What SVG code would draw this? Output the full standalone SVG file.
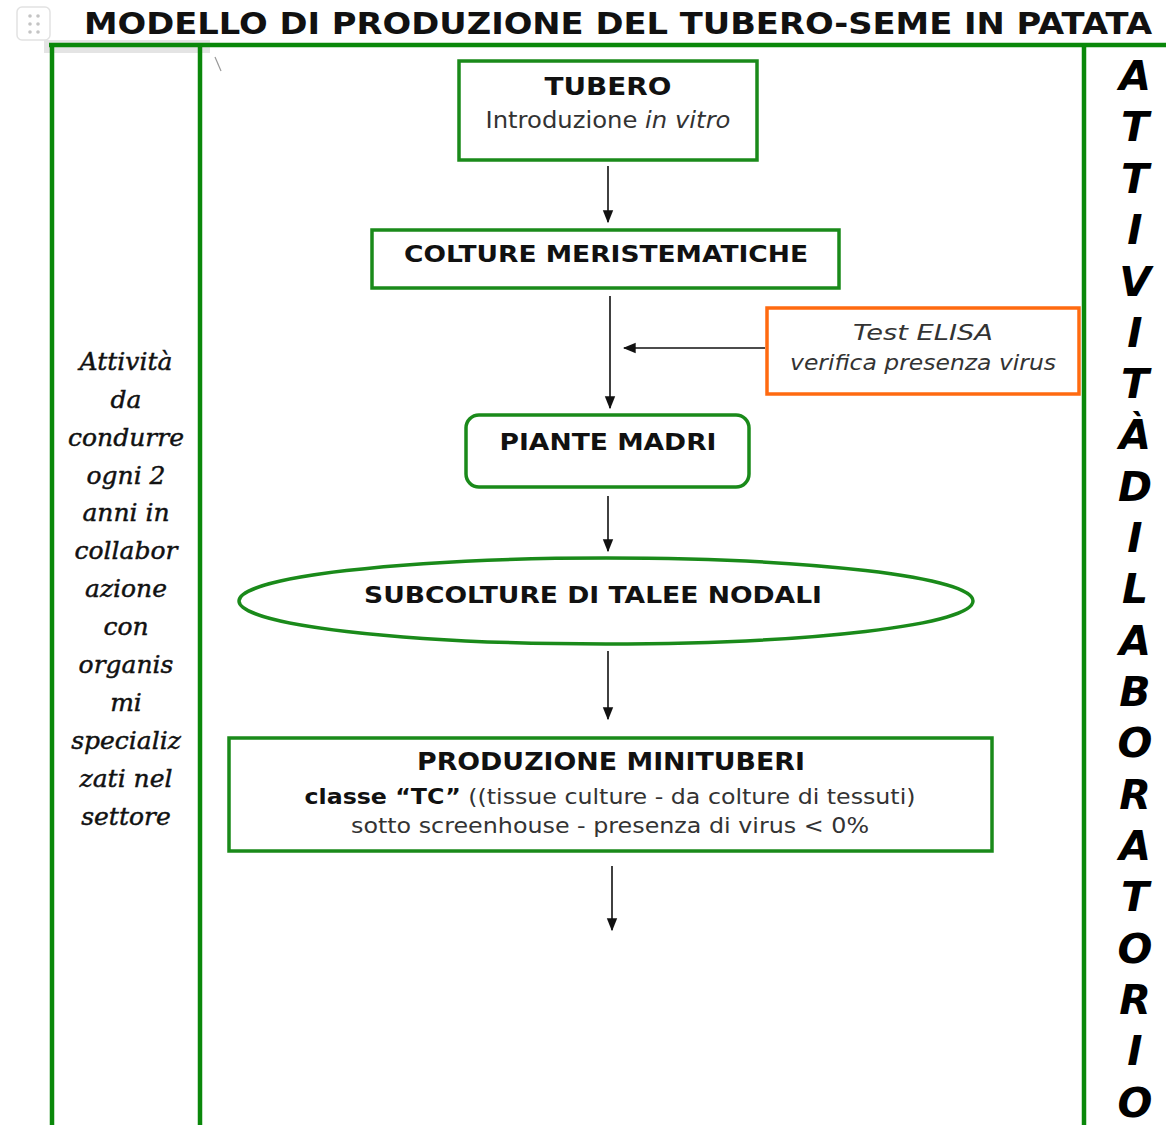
<svg xmlns="http://www.w3.org/2000/svg" width="1166" height="1125" viewBox="0 0 1166 1125">
<defs>
<style>
.frame{stroke:#0a880a;stroke-width:4.5;fill:none}
.box{fill:#fff;stroke:#1a8a1a;stroke-width:3.5}
.elisa{fill:#fff;stroke:#ff6a10;stroke-width:3.5}
.conn{stroke:#111;stroke-width:1.6;fill:none}
.b{font-family:"DejaVu Sans",Verdana,sans-serif;font-weight:bold;fill:#111;text-anchor:middle}
.r{font-family:"DejaVu Sans",Verdana,sans-serif;fill:#333;text-anchor:middle}
.side{font-family:"DejaVu Serif","Liberation Serif",serif;font-style:italic;font-size:25px;fill:#111;stroke:#111;stroke-width:0.45;text-anchor:middle}
.lab{font-family:"DejaVu Sans",Verdana,sans-serif;font-weight:bold;font-style:italic;font-size:41px;fill:#000;text-anchor:middle}
</style>
<marker id="ah2" viewBox="0 0 10 10" refX="9" refY="5" markerWidth="13" markerHeight="13" markerUnits="userSpaceOnUse" orient="auto"><path d="M0,1 L10,5 L0,9 z" fill="#111"/></marker>
</defs>
<rect width="1166" height="1125" fill="#fff"/>
<g id="handle">
<rect x="17" y="7" width="33" height="33" rx="5" fill="#fff" stroke="#e2e2e2" stroke-width="1.5"/>
<g fill="#c4c4c4"><circle cx="30" cy="16" r="1.8"/><circle cx="38" cy="16" r="1.8"/><circle cx="30" cy="24" r="1.8"/><circle cx="38" cy="24" r="1.8"/><circle cx="30" cy="32" r="1.8"/><circle cx="38" cy="32" r="1.8"/></g>
</g>
<rect x="44" y="40" width="166" height="13" fill="#e4e4e4"/>
<line x1="215" y1="57" x2="221" y2="71" stroke="#999" stroke-width="1.2"/>
<g id="title"><text x="618" y="34" class="b" font-size="30" textLength="1068" lengthAdjust="spacingAndGlyphs">MODELLO DI PRODUZIONE DEL TUBERO-SEME IN PATATA</text></g>
<g id="frame">
<line x1="49" y1="45" x2="1166" y2="45" class="frame"/>
<line x1="52" y1="43" x2="52" y2="1125" class="frame"/>
<line x1="200" y1="43" x2="200" y2="1125" class="frame"/>
<line x1="1084" y1="43" x2="1084" y2="1125" class="frame"/>
</g>
<g id="side-left">
<text class="side" x="126" y="370">Attività</text>
<text class="side" x="126" y="408">da</text>
<text class="side" x="126" y="446">condurre</text>
<text class="side" x="126" y="484">ogni 2</text>
<text class="side" x="126" y="521">anni in</text>
<text class="side" x="126" y="559">collabor</text>
<text class="side" x="126" y="597">azione</text>
<text class="side" x="126" y="635">con</text>
<text class="side" x="126" y="673">organis</text>
<text class="side" x="126" y="711">mi</text>
<text class="side" x="126" y="749">specializ</text>
<text class="side" x="126" y="787">zati nel</text>
<text class="side" x="126" y="825">settore</text>
</g>
<g id="side-right">
<text class="lab" x="1135" y="90">A</text>
<text class="lab" x="1135" y="141">T</text>
<text class="lab" x="1135" y="193">T</text>
<text class="lab" x="1135" y="244">I</text>
<text class="lab" x="1135" y="296">V</text>
<text class="lab" x="1135" y="347">I</text>
<text class="lab" x="1135" y="398">T</text>
<text class="lab" x="1135" y="449">À</text>
<text class="lab" x="1135" y="501">D</text>
<text class="lab" x="1135" y="552">I</text>
<text class="lab" x="1135" y="603">L</text>
<text class="lab" x="1135" y="655">A</text>
<text class="lab" x="1135" y="706">B</text>
<text class="lab" x="1135" y="757">O</text>
<text class="lab" x="1135" y="809">R</text>
<text class="lab" x="1135" y="860">A</text>
<text class="lab" x="1135" y="911">T</text>
<text class="lab" x="1135" y="963">O</text>
<text class="lab" x="1135" y="1014">R</text>
<text class="lab" x="1135" y="1065">I</text>
<text class="lab" x="1135" y="1117">O</text>
</g>
<g id="connectors">
<line x1="608" y1="166" x2="608" y2="222" class="conn" marker-end="url(#ah2)"/>
<line x1="610" y1="296" x2="610" y2="408" class="conn" marker-end="url(#ah2)"/>
<line x1="765" y1="348" x2="624" y2="348" class="conn" marker-end="url(#ah2)"/>
<line x1="608" y1="496" x2="608" y2="551" class="conn" marker-end="url(#ah2)"/>
<line x1="608" y1="651" x2="608" y2="719" class="conn" marker-end="url(#ah2)"/>
<line x1="612" y1="866" x2="612" y2="930" class="conn" stroke-width="1.2" marker-end="url(#ah2)"/>
</g>
<g id="node-tubero">
<rect x="459" y="61" width="298" height="99" class="box"/>
<text x="608" y="95" class="b" font-size="24" textLength="127" lengthAdjust="spacingAndGlyphs">TUBERO</text>
<text x="608" y="128" class="r" font-size="23" textLength="245" lengthAdjust="spacingAndGlyphs">Introduzione <tspan font-style="italic">in vitro</tspan></text>
</g>
<g id="node-colture">
<rect x="372" y="230" width="467" height="58" class="box"/>
<text x="606" y="262" class="b" font-size="23" textLength="404" lengthAdjust="spacingAndGlyphs">COLTURE MERISTEMATICHE</text>
</g>
<g id="node-elisa">
<rect x="767" y="308" width="312" height="86" class="elisa"/>
<text x="923" y="340" class="r" font-size="22" font-style="italic" textLength="140" lengthAdjust="spacingAndGlyphs">Test ELISA</text>
<text x="923" y="370" class="r" font-size="22" font-style="italic" textLength="266" lengthAdjust="spacingAndGlyphs">verifica presenza virus</text>
</g>
<g id="node-piante">
<rect x="466" y="415" width="283" height="72" rx="13" class="box"/>
<text x="608" y="450" class="b" font-size="23" textLength="217" lengthAdjust="spacingAndGlyphs">PIANTE MADRI</text>
</g>
<g id="node-subcolture">
<ellipse cx="606" cy="601" rx="367" ry="43" class="box"/>
<text x="593" y="603" class="b" font-size="23" textLength="458" lengthAdjust="spacingAndGlyphs">SUBCOLTURE DI TALEE NODALI</text>
</g>
<g id="node-minituberi">
<rect x="229" y="738" width="763" height="113" class="box"/>
<text x="611" y="770" class="b" font-size="24" textLength="388" lengthAdjust="spacingAndGlyphs">PRODUZIONE MINITUBERI</text>
<text x="610" y="804" class="r" font-size="22" textLength="611" lengthAdjust="spacingAndGlyphs"><tspan font-weight="bold" fill="#111">classe “TC”</tspan> ((tissue culture - da colture di tessuti)</text>
<text x="610" y="833" class="r" font-size="22" textLength="518" lengthAdjust="spacingAndGlyphs">sotto screenhouse - presenza di virus &lt; 0%</text>
</g>
</svg>
